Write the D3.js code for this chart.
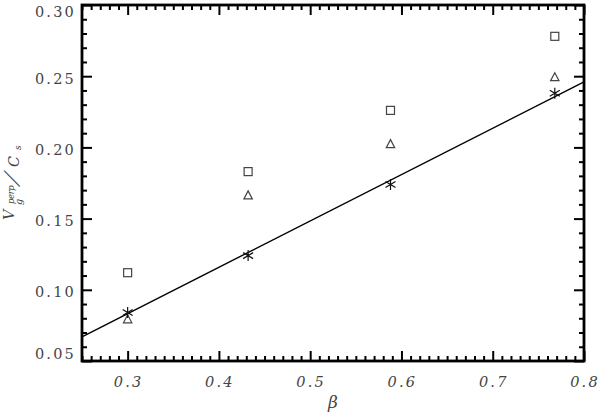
<!DOCTYPE html>
<html>
<head>
<meta charset="utf-8">
<script src="https://cdn.jsdelivr.net/npm/d3@7"></script>
<style>
	body { margin: 0; background: #fff; }
	svg { display: block; }
	.tick-label { font-family: 'DejaVu Serif', serif; font-size: 14.5px; fill: #444; letter-spacing: 2.2px; }
	.title { font-family: 'DejaVu Serif', serif; font-style: italic; fill: #444; }
</style>
</head>
<body>
<div id="chart"></div>
<script>
const beta = [0.300, 0.432, 0.588, 0.768];
const squares = [0.112, 0.183, 0.226, 0.278];
const triangles = [0.080, 0.167, 0.203, 0.250];
const stars = [0.084, 0.124, 0.174, 0.238];
const fitLine = [[0.25, 0.067], [0.80, 0.246]];
const xTicks = [0.3, 0.4, 0.5, 0.6, 0.7, 0.8];
const yTicks = [0.05, 0.10, 0.15, 0.20, 0.25, 0.30];

const width = 600;
const height = 418;
const margin = { top: 5, right: 16, bottom: 57, left: 82 };

const svg = d3.select('#chart').append('svg')
	.attr('width', width)
	.attr('height', height);

const x = d3.scaleLinear().domain([0.25, 0.8]).range([margin.left, width - margin.right]);
const y = d3.scaleLinear().domain([0.05, 0.30]).range([height - margin.bottom, margin.top]);

const x0 = x.range()[0], x1 = x.range()[1];
const y0 = y.range()[0], y1 = y.range()[1];

// minor + major ticks on all four sides, pointing inward
function ticks(axisFn, scale, majors, minorStep, minorLen, majorLen, pos) {
	const dom = scale.domain();
	const minors = d3.range(Math.round(dom[0] / minorStep), Math.round(dom[1] / minorStep) + 1)
		.map(i => i * minorStep)
		.filter(v => !majors.some(m => Math.abs(m - v) < 1e-9));
	const g = svg.append('g').attr('transform', pos);
	g.call(axisFn(scale).tickValues(minors).tickSize(minorLen).tickFormat(''));
	g.append('g').call(axisFn(scale).tickValues(majors).tickSize(majorLen).tickFormat(''));
	g.selectAll('.domain').remove();
	g.selectAll('line').attr('stroke', '#000').attr('stroke-width', 2);
}

ticks(d3.axisTop, x, xTicks, 0.01, 5, 10, `translate(0,${y0})`);
ticks(d3.axisBottom, x, xTicks, 0.01, 5, 10, `translate(0,${y1})`);
ticks(d3.axisRight, y, yTicks, 0.01, 5, 10, `translate(${x0},0)`);
ticks(d3.axisLeft, y, yTicks, 0.01, 5, 10, `translate(${x1},0)`);

svg.append('rect')
	.attr('x', x0).attr('y', y1)
	.attr('width', x1 - x0).attr('height', y0 - y1)
	.attr('fill', 'none').attr('stroke', '#000').attr('stroke-width', 2.8);

// tick labels (end labels kept inside the frame height, like the original)
svg.append('g').selectAll('text')
	.data(yTicks)
	.join('text')
	.attr('class', 'tick-label')
	.attr('x', x0 - 6)
	.attr('y', d => Math.max(y1 + 7, Math.min(y0 - 7, y(d) + 2.5)) + 5)
	.attr('text-anchor', 'end')
	.text(d => d.toFixed(2));

svg.append('g').selectAll('text')
	.data(xTicks)
	.join('text')
	.attr('class', 'tick-label')
	.attr('font-style', 'italic')
	.attr('x', d => x(d) + 1)
	.attr('y', y0 + 26)
	.attr('text-anchor', 'middle')
	.text(d => d.toFixed(1));

// axis titles
svg.append('text')
	.attr('class', 'title')
	.attr('x', (x0 + x1) / 2)
	.attr('y', y0 + 47)
	.attr('text-anchor', 'middle')
	.attr('font-size', 17)
	.text('β');

const yt = svg.append('g').attr('class', 'title').attr('transform', 'rotate(-90)');
yt.append('text').attr('x', -220).attr('y', 14).attr('font-size', 14.5).text('V');
yt.append('text').attr('x', -204).attr('y', 13.5).attr('font-size', 8.5).attr('letter-spacing', -0.4).text('perp');
yt.append('text').attr('x', -205).attr('y', 21.5).attr('font-size', 9.5).text('g');
yt.append('text').attr('transform', 'translate(-186,18) skewX(-35)').attr('font-size', 19).attr('font-style', 'normal').text('/');
yt.append('text').attr('x', -167).attr('y', 18.5).attr('font-size', 14.5).text('C');
yt.append('text').attr('x', -150).attr('y', 21).attr('font-size', 9).text('s');

// fit line
svg.append('path')
	.datum(fitLine)
	.attr('d', d3.line().x(d => x(d[0])).y(d => y(d[1])))
	.attr('fill', 'none')
	.attr('stroke', '#000')
	.attr('stroke-width', 1.4);

// markers
const mk = svg.append('g').attr('fill', 'none').attr('stroke', '#444').attr('stroke-width', 1.2);

mk.selectAll('.sq')
	.data(beta.map((b, i) => [b, squares[i]]))
	.join('rect')
	.attr('x', d => x(d[0]) - 4)
	.attr('y', d => y(d[1]) - 4)
	.attr('width', 8)
	.attr('height', 8);

mk.selectAll('.tri')
	.data(beta.map((b, i) => [b, triangles[i]]))
	.join('path')
	.attr('transform', d => `translate(${x(d[0])},${y(d[1]) + 1})`)
	.attr('d', 'M0,-4.5L4.2,3.5L-4.2,3.5Z');

mk.selectAll('.star')
	.data(beta.map((b, i) => [b, stars[i]]))
	.join('path')
	.attr('transform', d => `translate(${x(d[0])},${y(d[1])})`)
	.attr('stroke', '#111')
	.attr('d', 'M0,-5.5L0,5.5M-5,-3L5,3M-5,3L5,-3');
</script>
</body>
</html>
